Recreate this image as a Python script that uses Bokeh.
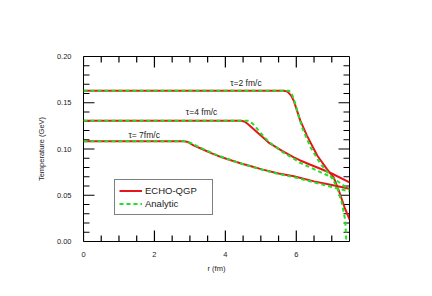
from bokeh.plotting import figure
from bokeh.models import (Range1d, LinearAxis, SingleIntervalTicker, PrintfTickFormatter,
                          Legend, LegendItem, Label, ColumnDataSource)
from bokeh.embed import file_html
from bokeh.resources import INLINE

# ECHO-QGP (numerical) temperature profiles
r_echo_2 = [0, 5.65, 5.75, 5.85, 5.93, 6.11, 6.30, 6.59, 6.87, 7.05, 7.20, 7.36, 7.5]
T_echo_2 = [0.163, 0.163, 0.162, 0.158, 0.152, 0.131, 0.1145, 0.093, 0.078, 0.0696, 0.055, 0.037, 0.024]
r_echo_4 = [0, 4.45, 4.55, 4.65, 4.84, 5.0, 5.22, 5.6, 5.93, 6.11, 6.4, 6.68, 7.0, 7.5]
T_echo_4 = [0.1305, 0.1305, 0.1295, 0.1265, 0.120, 0.1145, 0.107, 0.098, 0.091, 0.0876, 0.083, 0.0786, 0.0735, 0.064]
r_echo_7 = [0, 2.8, 2.95, 3.1, 3.34, 3.6, 3.9, 4.2, 4.47, 4.75, 5.03, 5.5, 5.93, 6.5, 7.0, 7.5]
T_echo_7 = [0.1085, 0.1085, 0.1075, 0.104, 0.100, 0.0955, 0.091, 0.0873, 0.084, 0.081, 0.078, 0.0735, 0.0705, 0.065, 0.061, 0.057]

# Analytic profiles
r_an_2 = [0, 5.8, 5.88, 5.97, 6.16, 6.40, 6.68, 6.96, 7.15, 7.29, 7.38, 7.41]
T_an_2 = [0.163, 0.163, 0.159, 0.149, 0.1235, 0.102, 0.084, 0.0714, 0.0589, 0.041, 0.023, 0.0]
r_an_4 = [0, 4.65, 4.75, 4.85, 5.0, 5.22, 5.6, 5.93, 6.11, 6.4, 6.68, 7.0, 7.5]
T_an_4 = [0.1305, 0.1305, 0.128, 0.124, 0.117, 0.108, 0.097, 0.0895, 0.085, 0.080, 0.075, 0.0695, 0.056]
r_an_7 = [0, 2.9, 3.05, 3.2, 3.4, 3.7, 4.0, 4.5, 5.0, 5.5, 6.0, 6.5, 7.0, 7.5]
T_an_7 = [0.1085, 0.1085, 0.106, 0.103, 0.0995, 0.0945, 0.090, 0.0835, 0.078, 0.073, 0.069, 0.064, 0.059, 0.054]

curve_labels = ["τ=2 fm/c", "τ=4 fm/c", "τ= 7fm/c"]
label_r = [4.58, 3.33, 1.71]
label_T = [0.1717, 0.1397, 0.1153]

# tick positions
x_major = [0, 2, 4, 6]
x_minor = [0.5, 1, 1.5, 2.5, 3, 3.5, 4.5, 5, 5.5, 6.5, 7]
y_major = [0.0, 0.05, 0.10, 0.15, 0.20]
y_minor = [0.01, 0.02, 0.03, 0.04, 0.06, 0.07, 0.08, 0.09, 0.11, 0.12, 0.13, 0.14,
           0.16, 0.17, 0.18, 0.19]

X0, X1, Y0, Y1 = 0.0, 7.5, 0.0, 0.2
W, H = 420, 285
BL, BR, BT, BB = 83, 71, 56, 44
FW, FH = W - BL - BR, H - BT - BB          # frame size in pixels
PX_X = (X1 - X0) / FW                       # data units per pixel
PX_Y = (Y1 - Y0) / FH

RED = "#e8141c"
GREEN = "#22e022"
FONT = "Liberation Sans"

p = figure(width=W, height=H, output_backend="svg", toolbar_location=None,
           x_range=Range1d(X0, X1), y_range=Range1d(Y0, Y1),
           x_axis_location=None, y_axis_location=None,
           min_border_left=BL, min_border_right=BR, min_border_top=BT, min_border_bottom=BB)
p.grid.visible = False
p.outline_line_color = "black"
p.outline_line_width = 1
p.background_fill_color = "white"
p.border_fill_color = "white"

bottom = LinearAxis(ticker=SingleIntervalTicker(interval=2, num_minor_ticks=4), axis_label="r (fm)")
left = LinearAxis(ticker=SingleIntervalTicker(interval=0.05, num_minor_ticks=5),
                  formatter=PrintfTickFormatter(format="%.2f"), axis_label="Temperature (GeV)")
p.add_layout(bottom, "below")
p.add_layout(left, "left")

for ax in [bottom, left]:
    ax.axis_line_color = None
    ax.major_tick_line_color = None
    ax.minor_tick_line_color = None
    ax.major_label_text_font = FONT
    ax.major_label_text_font_size = "7.5px"
    ax.major_label_text_color = "#222222"
    ax.axis_label_text_font = FONT
    ax.axis_label_text_font_size = "7.5px"
    ax.axis_label_text_font_style = "normal"
    ax.axis_label_text_color = "#222222"

bottom.major_label_standoff = 4
bottom.axis_label_standoff = 4
left.major_label_standoff = 6
left.axis_label_standoff = 8

# inward ticks on all four sides, built as one segment source
tx0, ty0, tx1, ty1 = [], [], [], []
for ticks, ln in [(x_major, 11), (x_minor, 6)]:
    for t in ticks:
        tx0 += [float(t), float(t)]
        tx1 += [float(t), float(t)]
        ty0 += [Y0, Y1]
        ty1 += [Y0 + ln * PX_Y, Y1 - ln * PX_Y]
for ticks, ln in [(y_major, 11), (y_minor, 6)]:
    for t in ticks:
        ty0 += [float(t), float(t)]
        ty1 += [float(t), float(t)]
        tx0 += [X0, X1]
        tx1 += [X0 + ln * PX_X, X1 - ln * PX_X]
tick_src = ColumnDataSource(data=dict(x0=tx0, y0=ty0, x1=tx1, y1=ty1))
p.segment(x0="x0", y0="y0", x1="x1", y1="y1", source=tick_src,
          line_color="#000000", line_width=1.2)

echo = [(r_echo_2, T_echo_2), (r_echo_4, T_echo_4), (r_echo_7, T_echo_7)]
an = [(r_an_2, T_an_2), (r_an_4, T_an_4), (r_an_7, T_an_7)]
red_r = []
green_r = []
for (rx, ty) in echo:
    red_r.append(p.line(rx, ty, line_color=RED, line_width=2))
for (rx, ty) in an:
    green_r.append(p.line(rx, ty, line_color=GREEN, line_width=2, line_dash="4 3"))

for txt, lx, ly in zip(curve_labels, label_r, label_T):
    p.add_layout(Label(x=lx, y=ly, text=txt, text_font=FONT, text_font_size="8.5px",
                       text_align="center", text_baseline="middle", text_color="#222222"))

legend = Legend(items=[LegendItem(label="ECHO-QGP", renderers=[red_r[0]]),
                       LegendItem(label="Analytic", renderers=[green_r[0]])],
                location=(31, 26), margin=0, padding=4, spacing=0,
                glyph_width=23, glyph_height=13, label_height=13, label_width=63,
                label_standoff=3, label_text_font=FONT, label_text_font_size="9.5px",
                label_text_color="#222222", border_line_color="black", border_line_width=1,
                background_fill_alpha=1)
p.add_layout(legend, "center")

open("out.html", "w").write(file_html(p, INLINE))
